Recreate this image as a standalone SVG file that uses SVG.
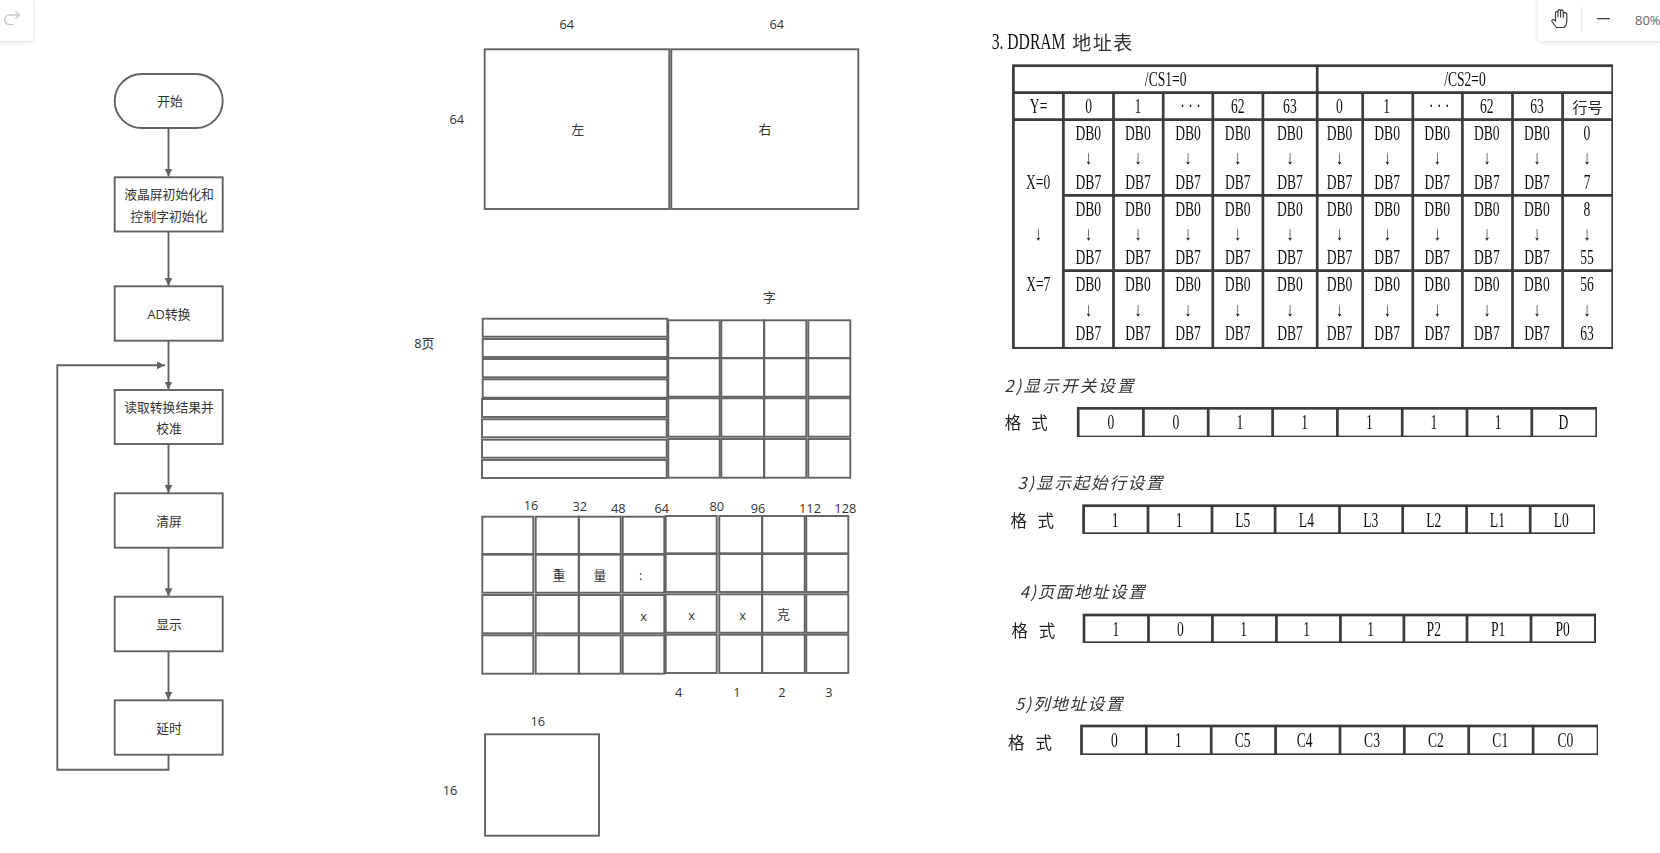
<svg xmlns="http://www.w3.org/2000/svg" width="1660" height="853" viewBox="0 0 1660 853">
<style>
.n{fill:#fff;stroke:#626262;stroke-width:1.9}
.c{fill:#fff;stroke:#626262;stroke-width:1.9}
.e{fill:none;stroke:#626262;stroke-width:1.9}
.l{font-family:"Open Sans","Noto Sans CJK SC",sans-serif;font-size:12.8px;fill:#333;text-anchor:middle;dominant-baseline:central}
.s{font-family:"Liberation Serif","Noto Sans CJK SC",serif;font-size:20px;fill:#111;text-anchor:middle;dominant-baseline:central;transform-box:fill-box;transform-origin:center;transform:scaleX(.68)}
.h{font-family:"Noto Sans CJK SC",sans-serif;font-size:16.5px;font-style:italic;fill:#333;dominant-baseline:central}
.k{font-family:"Noto Sans CJK SC",sans-serif;font-size:16.5px;fill:#222;text-anchor:middle;dominant-baseline:central}
.b{fill:none;stroke:#3a3a3a;stroke-width:2.7}
.m{fill:#fff;stroke:#3a3a3a;stroke-width:2.7}
</style>
<defs>
<marker id="a" markerUnits="userSpaceOnUse" markerWidth="9" markerHeight="9" refX="8" refY="4.5" orient="auto"><path d="M0 .6L8 4.5L0 8.4Z" fill="#626262"/></marker>
<filter id="sd" x="-20%" y="-20%" width="140%" height="150%"><feDropShadow dx="0" dy="1" stdDeviation="2" flood-color="#000" flood-opacity=".14"/></filter>
<filter id="bl" x="0" y="0" width="100%" height="100%"><feGaussianBlur stdDeviation=".4"/></filter>
</defs>
<rect width="1660" height="853" fill="#fff"/>

<g id="connectors">
<path class="e" marker-end="url(#a)" d="M168.5 128V176.5"/>
<path class="e" marker-end="url(#a)" d="M168.5 231.5V285.8"/>
<path class="e" marker-end="url(#a)" d="M168.5 340.7V389.5"/>
<path class="e" marker-end="url(#a)" d="M168.5 444V492.8"/>
<path class="e" marker-end="url(#a)" d="M168.5 547.7V596.2"/>
<path class="e" marker-end="url(#a)" d="M168.5 651.3V699.8"/>
<path class="e" marker-end="url(#a)" d="M168.5 754.7V769.7H57.3V365.3H165"/>
</g>

<g id="start"><rect class="n" x="114.7" y="74" width="108" height="54" rx="27"/><text class="l" x="170" y="100.5">开始</text></g>
<g id="init"><rect class="n" x="114.7" y="177.3" width="108" height="54.2"/><text class="l" x="169" y="194">液晶屏初始化和</text><text class="l" x="169" y="216">控制字初始化</text></g>
<g id="ad"><rect class="n" x="114.7" y="286.3" width="108" height="54.4"/><text class="l" x="169" y="314">AD转换</text></g>
<g id="read"><rect class="n" x="114.7" y="390" width="108" height="54"/><text class="l" x="169" y="407">读取转换结果并</text><text class="l" x="169" y="428">校准</text></g>
<g id="clear"><rect class="n" x="114.7" y="493.3" width="108" height="54.4"/><text class="l" x="169" y="520.7">清屏</text></g>
<g id="show"><rect class="n" x="114.7" y="596.7" width="108" height="54.6"/><text class="l" x="169" y="624">显示</text></g>
<g id="delay"><rect class="n" x="114.7" y="700.3" width="108" height="54.4"/><text class="l" x="169" y="728">延时</text></g>

<g id="panel-left"><rect class="c" x="484.7" y="49.3" width="184.6" height="159.7"/><text class="l" x="577.7" y="129">左</text></g>
<g id="panel-right"><rect class="c" x="671.3" y="49.3" width="187" height="159.7"/><text class="l" x="765" y="129">右</text></g>
<g id="panel-labels">
<text class="l" x="566.7" y="24">64</text><text class="l" x="776.7" y="24">64</text><text class="l" x="456.7" y="119">64</text>
<text class="l" x="769.3" y="297">字</text><text class="l" x="424.3" y="343">8页</text>
</g>

<g id="pages">
<rect class="c" x="482.7" y="318.7" width="184.6" height="18"/>
<rect class="c" x="482.7" y="339" width="184.6" height="18"/>
<rect class="c" x="482.7" y="359" width="184.6" height="18.3"/>
<rect class="c" x="482.7" y="379.3" width="184.6" height="18.4"/>
<rect class="c" x="482" y="399" width="184.7" height="18"/>
<rect class="c" x="482" y="419.3" width="184.7" height="18"/>
<rect class="c" x="482" y="439.7" width="184.7" height="18"/>
<rect class="c" x="482" y="460" width="184.7" height="18"/>
</g>
<g id="grid-top">
<rect class="c" x="668.3" y="320.3" width="51.4" height="37.7"/><rect class="c" x="721.3" y="320.3" width="42.7" height="37.7"/><rect class="c" x="764.3" y="320.3" width="42" height="37.7"/><rect class="c" x="808.3" y="320.3" width="42" height="37.7"/>
<rect class="c" x="668.3" y="358.3" width="51.4" height="38.4"/><rect class="c" x="721.3" y="358.3" width="42.7" height="38.4"/><rect class="c" x="764.3" y="358.3" width="42" height="38.4"/><rect class="c" x="808.3" y="358.3" width="42" height="38.4"/>
<rect class="c" x="668.3" y="398.3" width="51.4" height="38.4"/><rect class="c" x="721.3" y="398.3" width="42.7" height="38.4"/><rect class="c" x="764.3" y="398.3" width="42" height="38.4"/><rect class="c" x="808.3" y="398.3" width="42" height="38.4"/>
<rect class="c" x="668.3" y="439" width="51.4" height="38.7"/><rect class="c" x="721.3" y="439" width="42.7" height="38.7"/><rect class="c" x="764.3" y="439" width="42" height="38.7"/><rect class="c" x="808.3" y="439" width="42" height="38.7"/>
</g>

<g id="grid-bottom">
<rect class="c" x="482.3" y="516.7" width="51" height="37.3"/><rect class="c" x="535.7" y="516.7" width="43" height="37.3"/><rect class="c" x="579" y="516.7" width="41.7" height="37.3"/><rect class="c" x="622.7" y="516.7" width="41.6" height="37.3"/>
<rect class="c" x="482.3" y="554.7" width="51" height="38"/><rect class="c" x="535.7" y="554.7" width="43" height="38"/><rect class="c" x="579" y="554.7" width="41.7" height="38"/><rect class="c" x="622.7" y="554.7" width="41.6" height="38"/>
<rect class="c" x="482.3" y="595" width="51" height="38.3"/><rect class="c" x="535.7" y="595" width="43" height="38.3"/><rect class="c" x="579" y="595" width="41.7" height="38.3"/><rect class="c" x="622.7" y="595" width="41.6" height="38.3"/>
<rect class="c" x="482.3" y="635.3" width="51" height="38.4"/><rect class="c" x="535.7" y="635.3" width="43" height="38.4"/><rect class="c" x="579" y="635.3" width="41.7" height="38.4"/><rect class="c" x="622.7" y="635.3" width="41.6" height="38.4"/>
<rect class="c" x="665.7" y="516" width="51" height="37.3"/><rect class="c" x="719.3" y="516" width="42.7" height="37.3"/><rect class="c" x="762.3" y="516" width="42.4" height="37.3"/><rect class="c" x="806.3" y="516" width="42" height="37.3"/>
<rect class="c" x="665.7" y="554" width="51" height="38"/><rect class="c" x="719.3" y="554" width="42.7" height="38"/><rect class="c" x="762.3" y="554" width="42.4" height="38"/><rect class="c" x="806.3" y="554" width="42" height="38"/>
<rect class="c" x="665.7" y="594.3" width="51" height="38.4"/><rect class="c" x="719.3" y="594.3" width="42.7" height="38.4"/><rect class="c" x="762.3" y="594.3" width="42.4" height="38.4"/><rect class="c" x="806.3" y="594.3" width="42" height="38.4"/>
<rect class="c" x="665.7" y="634.7" width="51" height="38.3"/><rect class="c" x="719.3" y="634.7" width="42.7" height="38.3"/><rect class="c" x="762.3" y="634.7" width="42.4" height="38.3"/><rect class="c" x="806.3" y="634.7" width="42" height="38.3"/>
</g>
<g id="grid-labels">
<text class="l" x="531" y="505">16</text><text class="l" x="579.7" y="506">32</text><text class="l" x="618.3" y="508">48</text><text class="l" x="661.7" y="508">64</text><text class="l" x="716.7" y="506">80</text><text class="l" x="758" y="508">96</text><text class="l" x="810" y="508">112</text><text class="l" x="845.3" y="508">128</text>
<text class="l" x="559" y="574.7">重</text><text class="l" x="600" y="575">量</text><text class="l" x="640.7" y="575">:</text>
<text class="l" x="643.7" y="615.7">x</text><text class="l" x="691.7" y="615">x</text><text class="l" x="742.7" y="615">x</text><text class="l" x="783.3" y="614">克</text>
<text class="l" x="678.7" y="692">4</text><text class="l" x="737" y="692">1</text><text class="l" x="782" y="692">2</text><text class="l" x="829" y="692">3</text>
</g>
<g id="cell"><rect class="c" x="485" y="734.3" width="114" height="101.4"/><text class="l" x="537.7" y="721">16</text><text class="l" x="450" y="790">16</text></g>

<g id="ddram" filter="url(#bl)">
<text class="s" style="font-size:23px" x="1028.6" y="41">3. DDRAM</text>
<text class="k" x="1103" y="41" style="font-size:19px;letter-spacing:1.5px;fill:#333">地址表</text>
<rect class="m" x="1013.4" y="65.7" width="599.3" height="282.6"/>
<path class="b" d="M1013.4 92.7H1612.7M1013.4 119.7H1612.7M1063.4 195.3H1612.7M1063.4 270.7H1612.7M1317.2 65.7V348.3M1063.4 92.7V348.3M1113.5 92.7V348.3M1163.2 92.7V348.3M1212.8 92.7V348.3M1262.9 92.7V348.3M1362.7 92.7V348.3M1412.8 92.7V348.3M1462.4 92.7V348.3M1512.5 92.7V348.3M1562.6 92.7V348.3"/>
<text class="s" x="1165.7" y="80">/CS1=0</text><text class="s" x="1465" y="80">/CS2=0</text>
<text class="s" x="1038.6" y="106.7">Y=</text><text class="s" x="1088.7" y="106.7">0</text><text class="s" x="1138" y="106.7">1</text><text class="s" x="1190.5" y="106.7">· · ·</text><text class="s" x="1237.7" y="106.7">62</text><text class="s" x="1289.9" y="106.7">63</text><text class="s" x="1339.5" y="106.7">0</text><text class="s" x="1386.7" y="106.7">1</text><text class="s" x="1439.3" y="106.7">· · ·</text><text class="s" x="1486.8" y="106.7">62</text><text class="s" x="1537" y="106.7">63</text><text class="k" x="1587.4" y="106.7" style="font-size:15px">行号</text>
<text class="s" x="1038.2" y="182.7">X=0</text><text class="s" x="1038.2" y="234">↓</text><text class="s" x="1038.2" y="285">X=7</text>
<text class="s" x="1088.3" y="133.7">DB0</text><text class="s" x="1137.9" y="133.7">DB0</text><text class="s" x="1188" y="133.7">DB0</text><text class="s" x="1237.7" y="133.7">DB0</text><text class="s" x="1289.9" y="133.7">DB0</text><text class="s" x="1339.5" y="133.7">DB0</text><text class="s" x="1387.1" y="133.7">DB0</text><text class="s" x="1437.2" y="133.7">DB0</text><text class="s" x="1486.8" y="133.7">DB0</text><text class="s" x="1536.9" y="133.7">DB0</text><text class="s" x="1587" y="133.7">0</text>
<text class="s" x="1088.3" y="157.7">↓</text><text class="s" x="1137.9" y="157.7">↓</text><text class="s" x="1188" y="157.7">↓</text><text class="s" x="1237.7" y="157.7">↓</text><text class="s" x="1289.9" y="157.7">↓</text><text class="s" x="1339.5" y="157.7">↓</text><text class="s" x="1387.1" y="157.7">↓</text><text class="s" x="1437.2" y="157.7">↓</text><text class="s" x="1486.8" y="157.7">↓</text><text class="s" x="1536.9" y="157.7">↓</text><text class="s" x="1587" y="157.7">↓</text>
<text class="s" x="1088.3" y="182.7">DB7</text><text class="s" x="1137.9" y="182.7">DB7</text><text class="s" x="1188" y="182.7">DB7</text><text class="s" x="1237.7" y="182.7">DB7</text><text class="s" x="1289.9" y="182.7">DB7</text><text class="s" x="1339.5" y="182.7">DB7</text><text class="s" x="1387.1" y="182.7">DB7</text><text class="s" x="1437.2" y="182.7">DB7</text><text class="s" x="1486.8" y="182.7">DB7</text><text class="s" x="1536.9" y="182.7">DB7</text><text class="s" x="1587" y="182.7">7</text>
<text class="s" x="1088.3" y="209.3">DB0</text><text class="s" x="1137.9" y="209.3">DB0</text><text class="s" x="1188" y="209.3">DB0</text><text class="s" x="1237.7" y="209.3">DB0</text><text class="s" x="1289.9" y="209.3">DB0</text><text class="s" x="1339.5" y="209.3">DB0</text><text class="s" x="1387.1" y="209.3">DB0</text><text class="s" x="1437.2" y="209.3">DB0</text><text class="s" x="1486.8" y="209.3">DB0</text><text class="s" x="1536.9" y="209.3">DB0</text><text class="s" x="1587" y="209.3">8</text>
<text class="s" x="1088.3" y="233.3">↓</text><text class="s" x="1137.9" y="233.3">↓</text><text class="s" x="1188" y="233.3">↓</text><text class="s" x="1237.7" y="233.3">↓</text><text class="s" x="1289.9" y="233.3">↓</text><text class="s" x="1339.5" y="233.3">↓</text><text class="s" x="1387.1" y="233.3">↓</text><text class="s" x="1437.2" y="233.3">↓</text><text class="s" x="1486.8" y="233.3">↓</text><text class="s" x="1536.9" y="233.3">↓</text><text class="s" x="1587" y="233.3">↓</text>
<text class="s" x="1088.3" y="258">DB7</text><text class="s" x="1137.9" y="258">DB7</text><text class="s" x="1188" y="258">DB7</text><text class="s" x="1237.7" y="258">DB7</text><text class="s" x="1289.9" y="258">DB7</text><text class="s" x="1339.5" y="258">DB7</text><text class="s" x="1387.1" y="258">DB7</text><text class="s" x="1437.2" y="258">DB7</text><text class="s" x="1486.8" y="258">DB7</text><text class="s" x="1536.9" y="258">DB7</text><text class="s" x="1587" y="258">55</text>
<text class="s" x="1088.3" y="285">DB0</text><text class="s" x="1137.9" y="285">DB0</text><text class="s" x="1188" y="285">DB0</text><text class="s" x="1237.7" y="285">DB0</text><text class="s" x="1289.9" y="285">DB0</text><text class="s" x="1339.5" y="285">DB0</text><text class="s" x="1387.1" y="285">DB0</text><text class="s" x="1437.2" y="285">DB0</text><text class="s" x="1486.8" y="285">DB0</text><text class="s" x="1536.9" y="285">DB0</text><text class="s" x="1587" y="285">56</text>
<text class="s" x="1088.3" y="309.3">↓</text><text class="s" x="1137.9" y="309.3">↓</text><text class="s" x="1188" y="309.3">↓</text><text class="s" x="1237.7" y="309.3">↓</text><text class="s" x="1289.9" y="309.3">↓</text><text class="s" x="1339.5" y="309.3">↓</text><text class="s" x="1387.1" y="309.3">↓</text><text class="s" x="1437.2" y="309.3">↓</text><text class="s" x="1486.8" y="309.3">↓</text><text class="s" x="1536.9" y="309.3">↓</text><text class="s" x="1587" y="309.3">↓</text>
<text class="s" x="1088.3" y="333.7">DB7</text><text class="s" x="1137.9" y="333.7">DB7</text><text class="s" x="1188" y="333.7">DB7</text><text class="s" x="1237.7" y="333.7">DB7</text><text class="s" x="1289.9" y="333.7">DB7</text><text class="s" x="1339.5" y="333.7">DB7</text><text class="s" x="1387.1" y="333.7">DB7</text><text class="s" x="1437.2" y="333.7">DB7</text><text class="s" x="1486.8" y="333.7">DB7</text><text class="s" x="1536.9" y="333.7">DB7</text><text class="s" x="1587" y="333.7">63</text>
</g>

<g id="fmt-display" filter="url(#bl)">
<text class="h" x="1004.5" y="385" textLength="129">2)显示开关设置</text>
<text class="k" x="1012.9" y="422.3">格</text><text class="k" x="1039.4" y="422.3">式</text>
<rect class="m" x="1078.2" y="408.3" width="518.5" height="28.7"/>
<path class="b" d="M1143.4 408.3V437M1208.2 408.3V437M1272.6 408.3V437M1337.4 408.3V437M1402.2 408.3V437M1467 408.3V437M1531.8 408.3V437"/>
<text class="s" x="1111" y="423">0</text><text class="s" x="1175.8" y="423">0</text><text class="s" x="1239.8" y="423">1</text><text class="s" x="1304.6" y="423">1</text><text class="s" x="1369.4" y="423">1</text><text class="s" x="1433.8" y="423">1</text><text class="s" x="1498.2" y="423">1</text><text class="s" x="1563.4" y="423">D</text>
</g>
<g id="fmt-start" filter="url(#bl)">
<text class="h" x="1017.6" y="482" textLength="145">3)显示起始行设置</text>
<text class="k" x="1018.8" y="520.3">格</text><text class="k" x="1045.8" y="520.3">式</text>
<rect class="m" x="1083.6" y="505.7" width="511" height="28"/>
<path class="b" d="M1148 505.7V533.7M1212 505.7V533.7M1275.1 505.7V533.7M1339.5 505.7V533.7M1402.7 505.7V533.7M1466.6 505.7V533.7M1530.2 505.7V533.7"/>
<text class="s" x="1115.2" y="520.5">1</text><text class="s" x="1179.2" y="520.5">1</text><text class="s" x="1242.7" y="520.5">L5</text><text class="s" x="1306.3" y="520.5">L4</text><text class="s" x="1370.7" y="520.5">L3</text><text class="s" x="1433.8" y="520.5">L2</text><text class="s" x="1497.4" y="520.5">L1</text><text class="s" x="1561.3" y="520.5">L0</text>
</g>
<g id="fmt-page" filter="url(#bl)">
<text class="h" x="1019.7" y="591" textLength="125">4)页面地址设置</text>
<text class="k" x="1019.7" y="630.3">格</text><text class="k" x="1047" y="630.3">式</text>
<rect class="m" x="1084" y="615" width="511.4" height="27.7"/>
<path class="b" d="M1148.5 615V642.7M1212.4 615V642.7M1276.4 615V642.7M1340.4 615V642.7M1403.9 615V642.7M1467 615V642.7M1531 615V642.7"/>
<text class="s" x="1116" y="630">1</text><text class="s" x="1180.4" y="630">0</text><text class="s" x="1243.6" y="630">1</text><text class="s" x="1306.7" y="630">1</text><text class="s" x="1370.7" y="630">1</text><text class="s" x="1433.8" y="630">P2</text><text class="s" x="1498.2" y="630">P1</text><text class="s" x="1562.6" y="630">P0</text>
</g>
<g id="fmt-column" filter="url(#bl)">
<text class="h" x="1015" y="703" textLength="107.4">5)列地址设置</text>
<text class="k" x="1016.3" y="742.3">格</text><text class="k" x="1043.7" y="742.3">式</text>
<rect class="m" x="1081.5" y="726" width="516.5" height="28.7"/>
<path class="b" d="M1146.3 726V754.7M1211.2 726V754.7M1275.6 726V754.7M1340 726V754.7M1404.3 726V754.7M1468.7 726V754.7M1533.1 726V754.7"/>
<text class="s" x="1114.4" y="741">0</text><text class="s" x="1178.3" y="741">1</text><text class="s" x="1242.7" y="741">C5</text><text class="s" x="1304.6" y="741">C4</text><text class="s" x="1372" y="741">C3</text><text class="s" x="1435.9" y="741">C2</text><text class="s" x="1500.3" y="741">C1</text><text class="s" x="1565.5" y="741">C0</text>
</g>

<g id="toolbar-left">
<rect x="-6" y="-6" width="39" height="46.7" rx="3" fill="#fff" filter="url(#sd)"/>
<path d="M19 15H9.5a4.8 4.8 0 0 0 0 9.6H14M15.2 11.2L19.4 15L15.2 18.8" fill="none" stroke="#c6c9cd" stroke-width="1.4"/>
</g>
<g id="toolbar-right">
<rect x="1538" y="-6" width="130" height="46.7" rx="3" fill="#fff" filter="url(#sd)"/>
<path d="M1556.5 27.5L1552 21.5Q1551.3 19.5 1553.5 19.5L1555.5 21V12.5Q1556.8 10.5 1558 12.5V17.5V10.5Q1559.3 8.7 1560.6 10.5V17.5V10.5Q1562 9 1563.2 11V18V13.5Q1565 11.8 1566.8 13.5V22Q1566.5 25.8 1564 27.5Z" fill="#fff" stroke="#333" stroke-width="1.1"/>
<path d="M1581.7 7V32" stroke="#e5e5e5" stroke-width="1"/>
<path d="M1597 18.7H1610" stroke="#333" stroke-width="1.2"/>
<text x="1635" y="20" style="font-family:'Open Sans',sans-serif;font-size:13px;fill:#666;dominant-baseline:central">80%</text>
</g>
</svg>
